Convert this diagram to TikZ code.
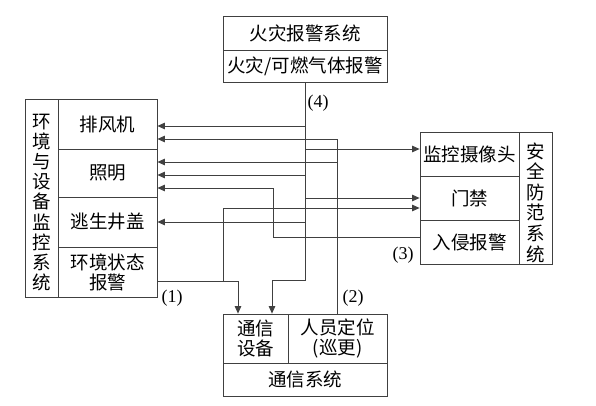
\documentclass[tikz,border=0pt]{standalone}
\usepackage{fontspec}
\setmainfont{Noto Sans CJK SC}
\newfontfamily\latinfont{Liberation Serif}
\usetikzlibrary{arrows.meta}
\tikzset{
  cell/.style={draw=black!75, line width=0.8pt, inner sep=0pt, align=center,
    font=\fontsize{18.5}{20}\selectfont},
  vtitle/.style={inner sep=0pt, align=center, text width=20pt},
  wire/.style={draw=black!75, line width=0.8pt},
  arr/.style={wire, -{Triangle[length=7.5pt,width=6.5pt]}},
  tag/.style={inner sep=0pt, font=\latinfont\fontsize{18}{18}\selectfont}
}
\begin{document}
\begin{tikzpicture}[x=1pt,y=-1pt]
\useasboundingbox (0,0) rectangle (596,406);
% left box
\node[cell, minimum width=33pt, minimum height=198pt] (envbox) at (41.5,198) {};
\node[vtitle, font=\fontsize{18.5}{20.1}\selectfont] (envt) at (41.5,202.5) {环\\境\\与\\设\\备\\监\\控\\系\\统};
\node[cell, minimum width=99pt, minimum height=50pt] (fan) at (107.5,124) {排风机};
\node[cell, minimum width=99pt, minimum height=48pt] (light) at (107.5,173) {照明};
\node[cell, minimum width=99pt, minimum height=50pt] (cover) at (107.5,222) {逃生井盖};
\node[cell, minimum width=99pt, minimum height=50pt] (envalarm) at (107.5,272) {环境状态\\报警};
% fire alarm system
\node[cell, minimum width=164pt, minimum height=34pt] (fire1) at (305,33) {火灾报警系统};
\node[cell, minimum width=164pt, minimum height=32pt] (fire2) at (305,66) {火灾/可燃气体报警};
% security
\node[cell, minimum width=99pt, minimum height=44pt] (cam) at (469.5,154) {监控摄像头};
\node[cell, minimum width=99pt, minimum height=44pt] (door) at (469.5,198) {门禁};
\node[cell, minimum width=99pt, minimum height=44pt] (intr) at (469.5,242) {入侵报警};
\node[cell, minimum width=33pt, minimum height=132pt] (secbox) at (535.5,198) {};
\node[vtitle, font=\fontsize{18.5}{20.6}\selectfont] (sect) at (535.5,202.5) {安\\全\\防\\范\\系\\统};
% communication
\node[cell, minimum width=65pt, minimum height=49pt] (dev) at (255.5,338.5) {通信\\设备};
\node[cell, minimum width=99pt, minimum height=49pt] (pos) at (337.5,338.5) {人员定位\\(巡更)};
\node[cell, minimum width=164pt, minimum height=33pt] (comm) at (305,379.5) {通信系统};
% bend points
\coordinate (b4) at (305,280);
\coordinate (b4l) at (272,280);
\coordinate (b2) at (337.5,139);
\coordinate (b1) at (238,281);
\coordinate (b1u) at (223,208);
\coordinate (b3) at (273,237);
\coordinate (b3u) at (273,188);
% line (4)
\draw[arr] (fire2.south) -- (b4) -- (b4l) -- (b4l |- dev.north);
\draw[arr] (fire2.south |- 0,126) -- (fan.east |- 0,126);
\draw[arr] (fire2.south |- 0,175) -- (light.east |- 0,175);
\draw[arr] (fire2.south |- 0,222) -- (cover.east |- 0,222);
\draw[arr] (fire2.south |- 0,149) -- (cam.west |- 0,149);
\draw[arr] (fire2.south |- 0,198) -- (door.west |- 0,198);
% line (2)
\draw[arr] (pos.north) -- (b2) -- (fan.east |- b2);
\draw[arr] (pos.north |- 0,162) -- (light.east |- 0,162);
% line (1)
\draw[arr] (envalarm.east |- b1) -- (b1) -- (b1 |- dev.north);
\draw[arr] (b1u |- b1) -- (b1u) -- (door.west |- b1u);
% line (3)
\draw[arr] (intr.west |- b3) -- (b3) -- (b3u) -- (light.east |- b3u);
% tags
\node[tag] (t1) at (172,298) {(1)};
\node[tag] (t2) at (353,298) {(2)};
\node[tag] (t3) at (403,255) {(3)};
\node[tag] (t4) at (318,103) {(4)};
\end{tikzpicture}
\end{document}
